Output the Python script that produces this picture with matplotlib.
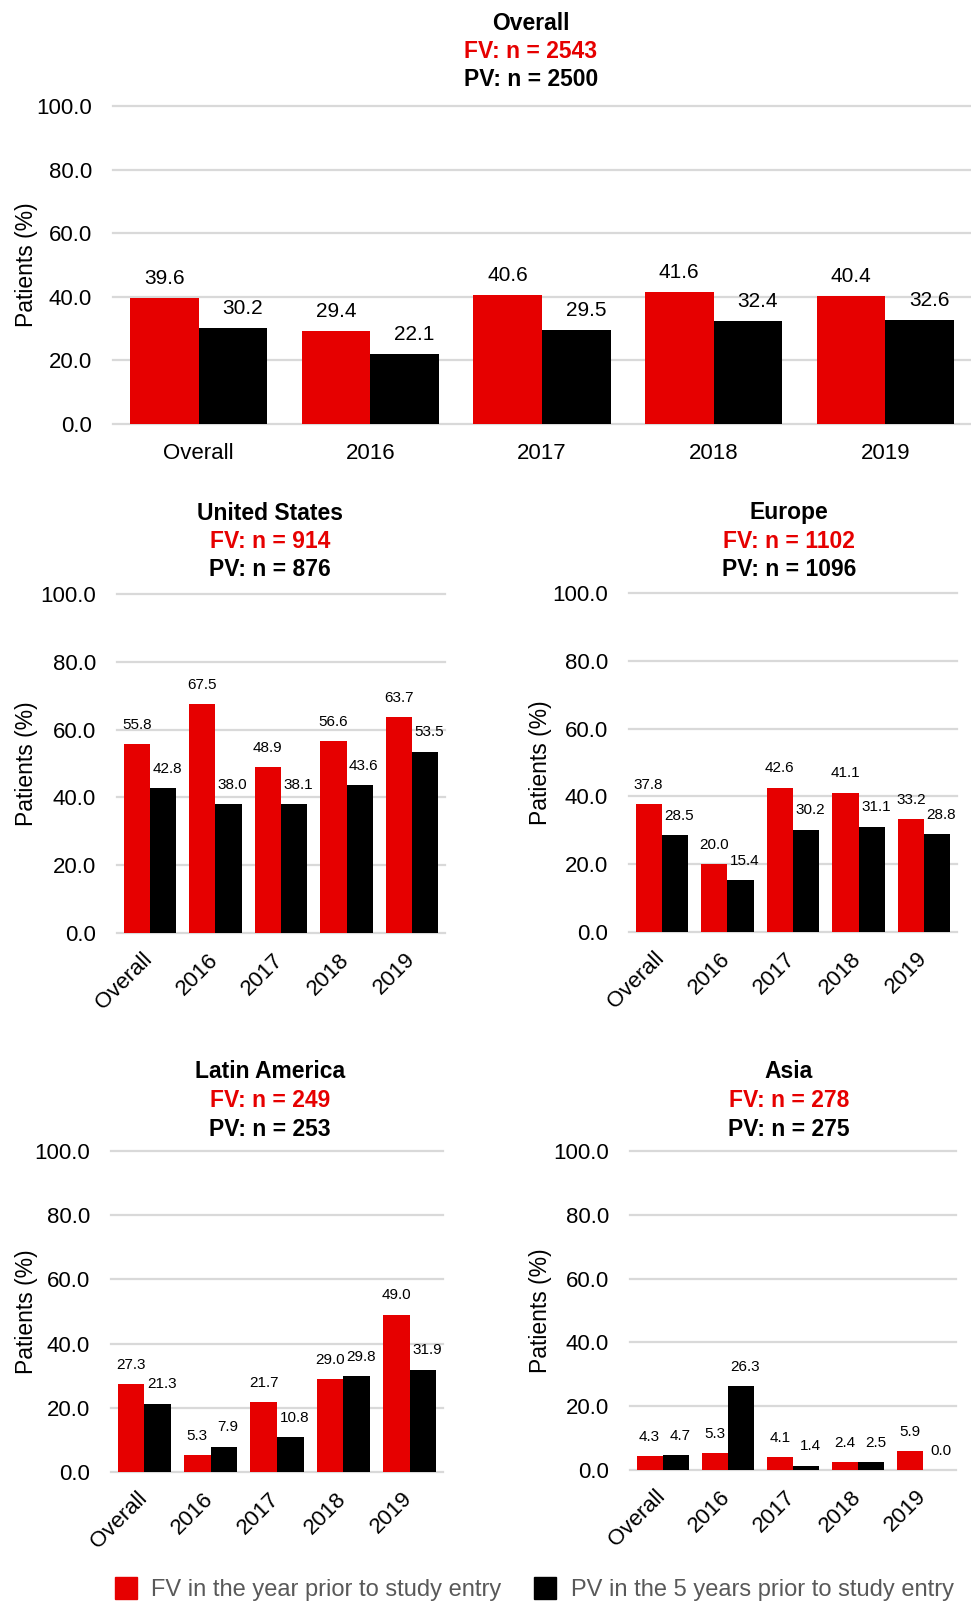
import matplotlib
matplotlib.use("Agg")
import matplotlib.pyplot as plt
import matplotlib.transforms as mtransforms
import numpy as np
from matplotlib.patches import Patch

plt.rcParams["font.family"] = ["Liberation Sans", "DejaVu Sans"]

categories = ["Overall", "2016", "2017", "2018", "2019"]

fv_overall = [39.6, 29.4, 40.6, 41.6, 40.4]
pv_overall = [30.2, 22.1, 29.5, 32.4, 32.6]
fv_us = [55.8, 67.5, 48.9, 56.6, 63.7]
pv_us = [42.8, 38.0, 38.1, 43.6, 53.5]
fv_eu = [37.8, 20.0, 42.6, 41.1, 33.2]
pv_eu = [28.5, 15.4, 30.2, 31.1, 28.8]
fv_la = [27.3, 5.3, 21.7, 29.0, 49.0]
pv_la = [21.3, 7.9, 10.8, 29.8, 31.9]
fv_asia = [4.3, 5.3, 4.1, 2.4, 5.9]
pv_asia = [4.7, 26.3, 1.4, 2.5, 0.0]

titles = ["Overall", "United States", "Europe", "Latin America", "Asia"]
n_fv = [2543, 914, 1102, 249, 278]
n_pv = [2500, 876, 1096, 253, 275]
yticks = [0, 20, 40, 60, 80, 100]

legend_labels = ["FV in the year prior to study entry", "PV in the 5 years prior to study entry"]

RED = "#E60000"
BLACK = "#000000"
GRID = "#D9D9D9"

W, H = 971, 1602
fig = plt.figure(figsize=(W/100, H/100), dpi=100)

# pixel boxes: left, right, y of 0 line, y of 100 line, title x, title y, ylabel x
boxes = [
    (113, 971, 424, 106, 531, 23, 26),
    (117, 445, 933, 594, 270, 513, 26),
    (629, 957, 932, 593, 789, 513, 540),
    (111, 443, 1472, 1151, 270, 1072, 26),
    (630, 956, 1470, 1151, 789, 1072, 540),
]
fvs = [fv_overall, fv_us, fv_eu, fv_la, fv_asia]
pvs = [pv_overall, pv_us, pv_eu, pv_la, pv_asia]

x = np.arange(len(categories))
bw = 0.4
shift = mtransforms.ScaledTranslation(0.07, -0.05, fig.dpi_scale_trans)

for i in range(5):
    l, r, y0, y100, tx, ty, lx = boxes[i]
    ax = fig.add_axes([l/W, 1-y0/H, (r-l)/W, (y0-y100)/H])
    top = (i == 0)
    ax.bar(x-bw/2, fvs[i], bw, color=RED, zorder=2)
    ax.bar(x+bw/2, pvs[i], bw, color=BLACK, zorder=2)
    for t in yticks:
        ax.axhline(t, color=GRID, lw=1.6, zorder=1, clip_on=False)
    ax.set_xlim(-0.5, 4.5)
    ax.set_ylim(0, 100)
    ax.set_yticks(yticks)
    ax.set_yticklabels([f"{t:.1f}" for t in yticks], fontsize=16)
    ax.set_xticks(x)
    for s in ax.spines.values():
        s.set_visible(False)
    ax.tick_params(length=0, pad=15)
    if top:
        ax.set_xticklabels(categories, fontsize=16)
        ax.tick_params(axis="x", pad=14)
        lfs, dy, dxb = 15, 10, 7
    else:
        ax.set_xticklabels(categories, fontsize=16, rotation=45, ha="right")
        ax.tick_params(axis="x", pad=8)
        for lbl in ax.get_xticklabels():
            lbl.set_transform(lbl.get_transform() + shift)
        lfs, dy, dxb = 11, 11, 3
    for j in range(len(categories)):
        ax.annotate(f"{fvs[i][j]:.1f}", (x[j]-bw/2, fvs[i][j]), xytext=(0, dy),
                    textcoords="offset points", ha="center", va="baseline", fontsize=lfs)
        ax.annotate(f"{pvs[i][j]:.1f}", (x[j]+bw/2, pvs[i][j]), xytext=(dxb, dy),
                    textcoords="offset points", ha="center", va="baseline", fontsize=lfs)
    fig.text(tx/W, 1-ty/H, titles[i], ha="center", va="center", fontsize=16.5, fontweight="bold")
    fig.text(tx/W, 1-(ty+28.5)/H, f"FV: n = {n_fv[i]}", ha="center", va="center",
             fontsize=16.5, fontweight="bold", color=RED)
    fig.text(tx/W, 1-(ty+57)/H, f"PV: n = {n_pv[i]}", ha="center", va="center",
             fontsize=16.5, fontweight="bold")
    fig.text(lx/W, 1-(y0+y100)/2/H, "Patients (%)", rotation=90, ha="center", va="center", fontsize=16.5)

handles = [Patch(color=RED), Patch(color=BLACK)]
fig.legend(handles, legend_labels, loc="center left", bbox_to_anchor=(115/W, 1-1589/H),
           ncol=2, frameon=False, fontsize=17, labelcolor="#595959",
           handlelength=0.93, handleheight=1.05, handletextpad=0.6, columnspacing=1.4,
           borderpad=0, borderaxespad=0)

fig.savefig("out.png", dpi=100)
